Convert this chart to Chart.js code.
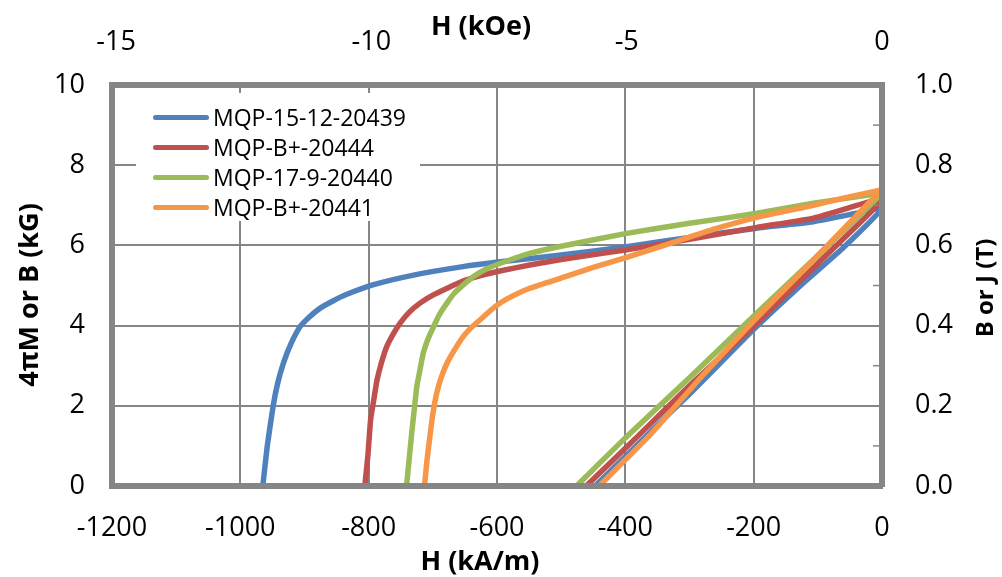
<!DOCTYPE html>
<html>
<head>
<meta charset="utf-8">
<script src="https://cdn.jsdelivr.net/npm/chart.js@4.4.0/dist/chart.umd.min.js"></script>
<style>
  html, body { margin: 0; padding: 0; background: #fff; }
  #wrap { position: relative; width: 1002px; height: 577px; }
  #legend { position: absolute; left: 136px; top: 93px; width: 284px; height: 128px; background: #fff;
            font-family: "Open Sans", sans-serif; font-size: 23px; color: #000; }
  .item { position: absolute; left: 0; height: 30px; display: flex; align-items: center; white-space: nowrap; }
  .swatch { width: 56px; height: 5px; border-radius: 3px; margin-left: 17px; margin-right: 4px; }
</style>
</head>
<body>
<div id="wrap">
  <canvas id="myChart" width="1002" height="577"></canvas>
  <div id="legend"></div>
</div>
<script>
// series names + colours (Excel 2007 palette)
const seriesNames = ['MQP-15-12-20439', 'MQP-B+-20444', 'MQP-17-9-20440', 'MQP-B+-20441'];
const seriesColors = ['#4f81bd', '#c0504d', '#9bbb59', '#f79646'];

// H in kA/m, B / 4piM in kG. B line from Hcb up to H=0, then the J curve out to Hci
const h20439 = [-447, -380, -294, -201, -120, -60, 0, -40, -107, -195, -300, -398, -500, -595, -653, -730, -795, -834, -855, -876, -892, -907, -921, -933, -942, -949, -958, -965];
const b20439 = [0, 1.05, 2.39, 3.89, 5.1, 5.95, 6.93, 6.8, 6.59, 6.43, 6.2, 5.97, 5.76, 5.59, 5.47, 5.26, 5.01, 4.78, 4.62, 4.43, 4.22, 3.97, 3.55, 3.06, 2.55, 1.98, 1.0, 0];

const h20444 = [-461, -380, -300, -201, -100, 0, -19, -107, -195, -300, -398, -500, -549, -590, -627, -655, -678, -700, -720, -737, -751, -762, -772, -780, -787, -792, -797, -801, -806];
const b20444 = [0, 1.25, 2.5, 3.97, 5.55, 7.12, 7.09, 6.68, 6.45, 6.15, 5.89, 5.65, 5.51, 5.38, 5.24, 5.1, 4.93, 4.76, 4.56, 4.33, 4.06, 3.78, 3.47, 3.08, 2.64, 2.15, 1.65, 0.8, 0];

const h20440 = [-476, -400, -300, -201, -100, 0, -10, -107, -195, -300, -398, -500, -549, -590, -616, -636, -653, -667, -678, -690, -699, -708, -715, -720, -725, -729, -733, -737, -741];
const b20440 = [0, 1.2, 2.7, 4.22, 5.75, 7.3, 7.28, 7.05, 6.8, 6.55, 6.3, 5.98, 5.8, 5.58, 5.42, 5.23, 5.01, 4.8, 4.56, 4.27, 3.97, 3.65, 3.31, 2.9, 2.48, 1.9, 1.31, 0.65, 0];

const h20441 = [-441, -360, -280, -201, -100, 0, -3, -60, -107, -195, -263, -330, -398, -450, -497, -549, -585, -604, -621, -638, -653, -666, -678, -687, -694, -700, -704, -709, -713];
const b20441 = [0, 1.3, 2.75, 4.1, 5.75, 7.4, 7.38, 7.18, 7.0, 6.7, 6.4, 6.05, 5.7, 5.45, 5.2, 4.93, 4.66, 4.46, 4.22, 3.98, 3.72, 3.4, 3.06, 2.7, 2.31, 1.8, 1.31, 0.65, 0];

const allH = [h20439, h20444, h20440, h20441];
const allB = [b20439, b20444, b20440, b20441];

// tick labels
const kOeTicks = [-15, -10, -5, 0];
const KA_PER_KOE = 79.5775;

const tickFont = { family: 'Open Sans', size: 27 };
const gridGray = '#868686';

const datasets = seriesNames.map(function(name, i) {
  return {
    label: name,
    data: allH[i].map(function(h, j) { return { x: h, y: allB[i][j] }; }),
    borderColor: seriesColors[i],
    backgroundColor: seriesColors[i],
    borderWidth: 5.5,
    pointRadius: 0,
    showLine: true,
    tension: 0.15,
    order: seriesNames.length - 1 - i   // later series on top, like Excel
  };
});

// axis titles drawn by hand so both side titles read bottom-to-top
function drawTitle(ctx, text, x, y, size, rotate) {
  ctx.save();
  ctx.fillStyle = '#000';
  ctx.font = 'bold ' + size + 'px "Open Sans"';
  ctx.textAlign = 'center';
  ctx.textBaseline = 'middle';
  ctx.translate(x, y);
  if (rotate) ctx.rotate(-Math.PI / 2);
  ctx.fillText(text, 0, 0);
  ctx.restore();
}

const axisTitles = {
  id: 'axisTitles',
  afterDraw(chart) {
    const ctx = chart.ctx;
    drawTitle(ctx, 'H (kOe)', 481, 27, 27, false);
    drawTitle(ctx, 'H (kA/m)', 480, 562, 27, false);
    drawTitle(ctx, '4πM or B (kG)', 30, 295, 27, true);
    drawTitle(ctx, 'B or J (T)', 986, 288, 24, true);
  }
};

// small inside ticks at odd tenths on the right axis
const minorTicks = {
  id: 'minorTicks',
  afterDraw(chart) {
    const s = chart.scales.y2;
    const ctx = chart.ctx;
    ctx.save();
    ctx.strokeStyle = gridGray;
    ctx.lineWidth = 1.5;
    [0.1, 0.3, 0.5, 0.7, 0.9].forEach(function(v) {
      const y = s.getPixelForValue(v);
      ctx.beginPath();
      ctx.moveTo(chart.chartArea.right - 9, y);
      ctx.lineTo(chart.chartArea.right, y);
      ctx.stroke();
    });
    ctx.restore();
  }
};

const config = {
  type: 'scatter',
  data: { datasets: datasets },
  options: {
    responsive: false,
    animation: false,
    layout: { padding: 0 },
    plugins: { legend: { display: false }, tooltip: { enabled: false } },
    scales: {
      x: {
        type: 'linear', position: 'bottom', min: -1200, max: 0,
        ticks: { stepSize: 200, color: '#000', font: tickFont, padding: 26, maxRotation: 0,
                 callback: function(v) { return String(v); } },
        grid: { color: gridGray, lineWidth: 2, drawTicks: false },
        border: { color: gridGray, width: 6, z: 1 },
        afterFit: function(s) { s.height = 91; }
      },
      x2: {
        type: 'linear', position: 'top', min: -1200 / KA_PER_KOE, max: 0,
        afterBuildTicks: function(s) { s.ticks = kOeTicks.map(function(v) { return { value: v }; }); },
        ticks: { color: '#000', font: tickFont, padding: 26, maxRotation: 0,
                 callback: function(v) { return String(v); } },
        grid: { display: false, drawTicks: false },
        border: { color: gridGray, width: 6, z: 1 },
        afterFit: function(s) { s.height = 85; }
      },
      y: {
        position: 'left', min: 0, max: 10,
        ticks: { stepSize: 2, color: '#000', font: tickFont, padding: 27 },
        grid: { color: gridGray, lineWidth: 2, drawTicks: false },
        border: { color: gridGray, width: 6, z: 1 },
        afterFit: function(s) { s.width = 112; }
      },
      y2: {
        position: 'right', min: 0, max: 1,
        ticks: { stepSize: 0.2, color: '#000', font: tickFont, padding: 33,
                 callback: function(v) { return v.toFixed(1); } },
        grid: { display: false, drawTicks: false },
        border: { color: gridGray, width: 6, z: 1 },
        afterFit: function(s) { s.width = 120; }
      }
    }
  },
  plugins: [axisTitles, minorTicks]
};

const myChart = new Chart(document.getElementById('myChart'), config);

// legend box sitting inside the plot, like the Excel one
const legend = document.getElementById('legend');
seriesNames.forEach(function(name, i) {
  const item = document.createElement('div');
  item.className = 'item';
  item.style.top = (9 + i * 30) + 'px';
  item.innerHTML = '<span class="swatch" style="background:' + seriesColors[i] + '"></span>' + name;
  legend.appendChild(item);
});
</script>
</body>
</html>
